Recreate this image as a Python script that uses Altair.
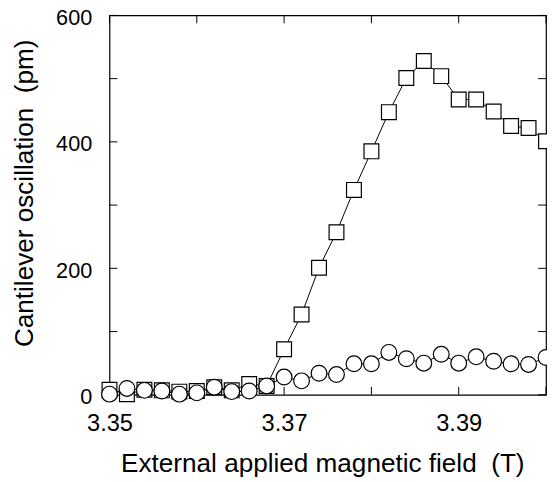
import altair as alt
import pandas as pd

# ---- data ----
field_T = [3.350, 3.352, 3.354, 3.356, 3.358, 3.360, 3.362, 3.364, 3.366, 3.368,
           3.370, 3.372, 3.374, 3.376, 3.378, 3.380, 3.382, 3.384, 3.386, 3.388,
           3.390, 3.392, 3.394, 3.396, 3.398, 3.400]
squares_pm = [8, 1, 8, 7, 5, 6, 12, 7, 17, 14,
              72, 127, 201, 257, 324, 385, 447, 501, 528, 504,
              467, 467, 448, 425, 422, 401]
circles_pm = [1, 10, 7, 6, 1, 3, 12, 5, 6, 14,
              28, 22, 34, 32, 49, 49, 67, 57, 50, 64,
              50, 60, 53, 49, 48, 59]

x_ticks = [3.35, 3.36, 3.37, 3.38, 3.39, 3.40]
x_labels = [3.35, 3.37, 3.39]
y_ticks = [0, 100, 200, 300, 400, 500, 600]
y_labels = [0, 200, 400, 600]

W, H = 443, 385
FONT = "Liberation Sans"
TICK = 8

sq = pd.DataFrame({"T": field_T, "pm": squares_pm})
ci = pd.DataFrame({"T": field_T, "pm": circles_pm})
xt = pd.DataFrame({"T": x_ticks})
yt = pd.DataFrame({"pm": y_ticks})

x_axis = alt.Axis(values=x_labels, format=".2f",
                  title="External applied magnetic field \u00a0(T)",
                  ticks=False, domain=False, grid=False,
                  labelFont=FONT, labelFontSize=24, labelColor="black",
                  labelPadding=36, labelBaseline="alphabetic",
                  labelFlush=False, labelOverlap=False,
                  titleFont=FONT, titleFontSize=26.5, titleFontWeight="normal",
                  titleColor="black", titleX=216, titleY=78,
                  titleBaseline="alphabetic", titleAlign="center")
y_axis = alt.Axis(values=y_labels, format="d",
                  title="Cantilever oscillation \u00a0(pm)",
                  ticks=False, domain=False, grid=False,
                  labelFont=FONT, labelFontSize=22, labelColor="black",
                  labelPadding=18, labelOffset=2, labelBaseline="middle",
                  labelFlush=False, labelOverlap=False,
                  titleFont=FONT, titleFontSize=26.5, titleFontWeight="normal",
                  titleColor="black", titleX=-78, titleY=180, titleAngle=270,
                  titleBaseline="alphabetic", titleAlign="center")

xs = alt.Scale(domain=[3.35, 3.40], nice=False, zero=False)
ys = alt.Scale(domain=[0, 600], nice=False, zero=False)

X = alt.X("T:Q", scale=xs, axis=x_axis)
Y = alt.Y("pm:Q", scale=ys, axis=y_axis)

tick_bottom = alt.Chart(xt).mark_rule(color="black", strokeWidth=1).encode(
    x=X, y=alt.value(H), y2=alt.value(H - TICK))
tick_top = alt.Chart(xt).mark_rule(color="black", strokeWidth=1).encode(
    x=X, y=alt.value(0), y2=alt.value(TICK))
tick_left = alt.Chart(yt).mark_rule(color="black", strokeWidth=1).encode(
    y=Y, x=alt.value(0), x2=alt.value(TICK))
tick_right = alt.Chart(yt).mark_rule(color="black", strokeWidth=1).encode(
    y=Y, x=alt.value(W), x2=alt.value(W - TICK))

sq_line = alt.Chart(sq).mark_line(color="black", strokeWidth=1).encode(x=X, y=Y)
sq_pts = alt.Chart(sq).mark_point(shape="square", size=225, filled=True,
                                  fill="white", stroke="black", strokeWidth=1.2,
                                  opacity=1).encode(x=X, y=Y)
ci_line = alt.Chart(ci).mark_line(color="black", strokeWidth=1).encode(x=X, y=Y)
ci_pts = alt.Chart(ci).mark_point(shape="circle", size=256, filled=True,
                                  fill="white", stroke="black", strokeWidth=1.2,
                                  opacity=1).encode(x=X, y=Y)

chart = alt.layer(tick_bottom, tick_top, tick_left, tick_right,
                  sq_line, sq_pts, ci_line, ci_pts).properties(
    width=W, height=H,
    autosize=alt.AutoSizeParams(type="none"),
    padding={"left": 103, "top": 4, "right": 1, "bottom": 85},
    background="white",
).configure_view(stroke="black", strokeWidth=1.2)

chart.save("out.html", embed_options={"renderer": "svg", "actions": False})
